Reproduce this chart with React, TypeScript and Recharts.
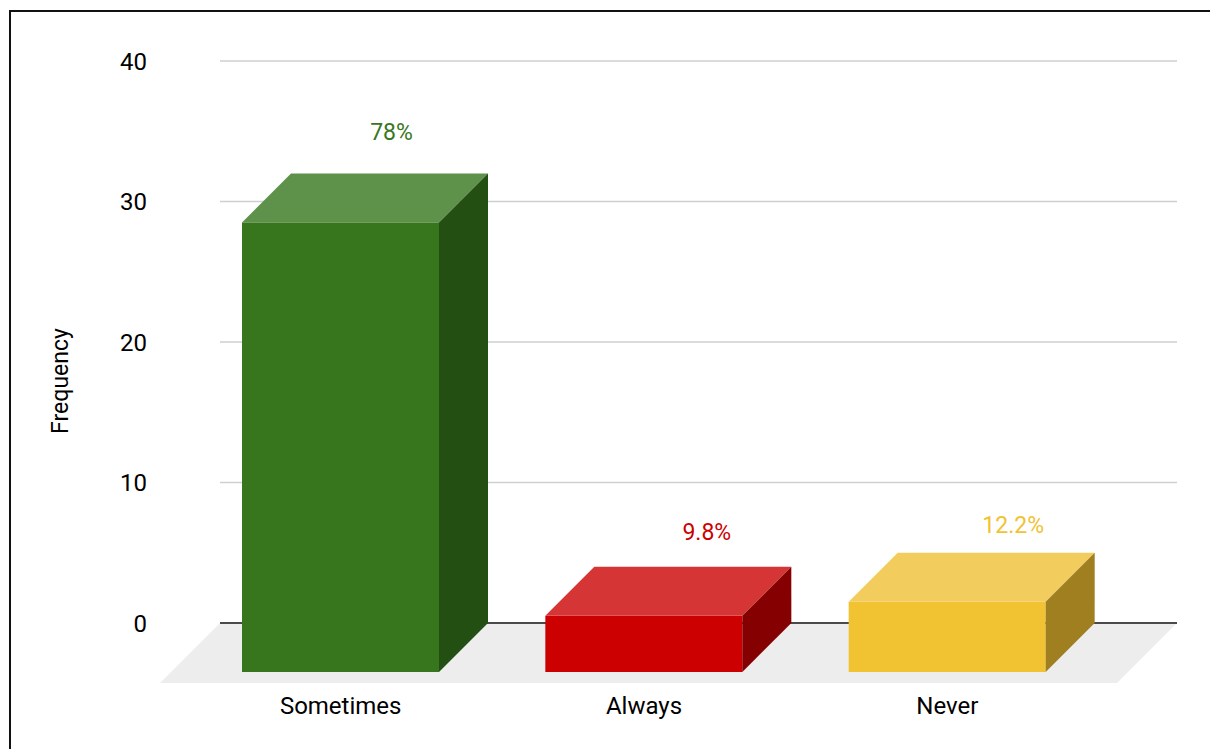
import React from 'react';
import { BarChart, Bar, XAxis, YAxis, CartesianGrid, LabelList } from 'recharts';

// ---- data ----
const categories = ['Sometimes', 'Always', 'Never'];
const frequencies = [32, 4, 5];
const percentLabels = ['78%', '9.8%', '12.2%'];
const yTicks = [0, 10, 20, 30, 40];

// ---- styles ----
const FRONT = ['#38761d', '#cc0000', '#f1c232'];
const TOP = ['#5e914a', '#d53535', '#f2cd5d'];
const SIDE = ['#244f13', '#850000', '#a07f21'];
const LABEL_COLORS = ['#38761d', '#cc0000', '#f1c232'];
const LABEL_SHIFT = [
  { dx: 2, dy: 33 },
  { dx: 14, dy: 27 },
  { dx: 17, dy: 20 },
];
const DEPTH = 49;
const FLOOR_DEPTH = 60;
const FONT = 'Roboto, "Noto Sans", sans-serif';

const W = 1210;
const H = 749;
const MARGIN = { top: 61, right: 33, bottom: 96, left: 140 };
const X_AXIS_H = 30;
const Y_AXIS_W = 80;
const PLOT_BOTTOM = H - MARGIN.bottom - X_AXIS_H;

const data = categories.map((c, i) => ({
  category: c,
  frequency: frequencies[i],
  pct: percentLabels[i],
}));

const Box3D = (props: any) => {
  const { x, y, width, height } = props;
  const i = categories.indexOf(props.payload?.category ?? props.category);
  const d = DEPTH;
  const b = y + height;
  return (
    <g>
      <rect x={x - d} y={y + d} width={width} height={height} fill={FRONT[i]} />
      <polygon
        points={`${x - d},${y + d} ${x + width - d},${y + d} ${x + width},${y} ${x},${y}`}
        fill={TOP[i]}
      />
      <polygon
        points={`${x + width - d},${y + d} ${x + width},${y} ${x + width},${b} ${x + width - d},${b + d}`}
        fill={SIDE[i]}
      />
    </g>
  );
};

const PctLabel = (props: any) => {
  const { x, y, width, index, value } = props;
  const s = LABEL_SHIFT[index] || { dx: 0, dy: 30 };
  return (
    <text
      x={x + width / 2 + s.dx}
      y={y - s.dy}
      textAnchor="middle"
      fill={LABEL_COLORS[index]}
      fontSize={23}
      fontFamily={FONT}
    >
      {value}
    </text>
  );
};

const XTick = (props: any) => {
  const { x, y, payload } = props;
  return (
    <text
      x={x - DEPTH}
      y={y + 91}
      textAnchor="middle"
      fill="#000"
      fontSize={24}
      fontFamily={FONT}
    >
      {payload.value}
    </text>
  );
};

const gridLine = (props: any) => {
  const { x1, y1, x2, y2 } = props;
  if (Math.abs(y1 - PLOT_BOTTOM) < 1) {
    return (
      <g key={`floor-${y1}`}>
        <polygon
          points={`${x1},${y1} ${x2},${y1} ${x2 - FLOOR_DEPTH},${y1 + FLOOR_DEPTH} ${x1 - FLOOR_DEPTH},${y1 + FLOOR_DEPTH}`}
          fill="#ededed"
        />
        <line x1={x1} y1={y1} x2={x2} y2={y2} stroke="#4a4a4a" strokeWidth={2} />
      </g>
    );
  }
  return (
    <line key={`g-${y1}`} x1={x1} y1={y1} x2={x2} y2={y2} stroke="#cfcfcf" strokeWidth={1.5} />
  );
};

export default function App() {
  return (
    <div style={{ position: 'absolute', left: 0, top: 0, width: W, height: H, background: '#fff' }}>
      <div style={{ position: 'absolute', left: 9, top: 10, width: W - 9, height: 2, background: '#111' }} />
      <div style={{ position: 'absolute', left: 9, top: 10, width: 2, height: H - 10, background: '#111' }} />
      <div style={{ position: 'absolute', left: 0, top: 0 }}>
        <BarChart width={W} height={H} data={data} margin={MARGIN}>
          <CartesianGrid horizontal={gridLine} vertical={false} />
          <XAxis
            dataKey="category"
            height={X_AXIS_H}
            padding={{ left: 18, right: 29 }}
            axisLine={false}
            tickLine={false}
            tickSize={0}
            tickMargin={0}
            tick={<XTick />}
            interval={0}
          />
          <YAxis
            width={Y_AXIS_W}
            domain={[0, 40]}
            ticks={yTicks}
            axisLine={false}
            tickLine={false}
            tickSize={0}
            tickMargin={73}
            tick={{ fontSize: 24, fill: '#000', fontFamily: FONT }}
            label={{
              content: () => (
                <text
                  x={60}
                  y={381}
                  transform="rotate(-90, 60, 381)"
                  textAnchor="middle"
                  dominantBaseline="central"
                  fontSize={23}
                  fill="#000"
                  fontFamily={FONT}
                >
                  Frequency
                </text>
              ),
            }}
          />
          <Bar dataKey="frequency" barSize={197} shape={<Box3D />} isAnimationActive={false}>
            <LabelList dataKey="pct" content={<PctLabel />} />
          </Bar>
        </BarChart>
      </div>
    </div>
  );
}
